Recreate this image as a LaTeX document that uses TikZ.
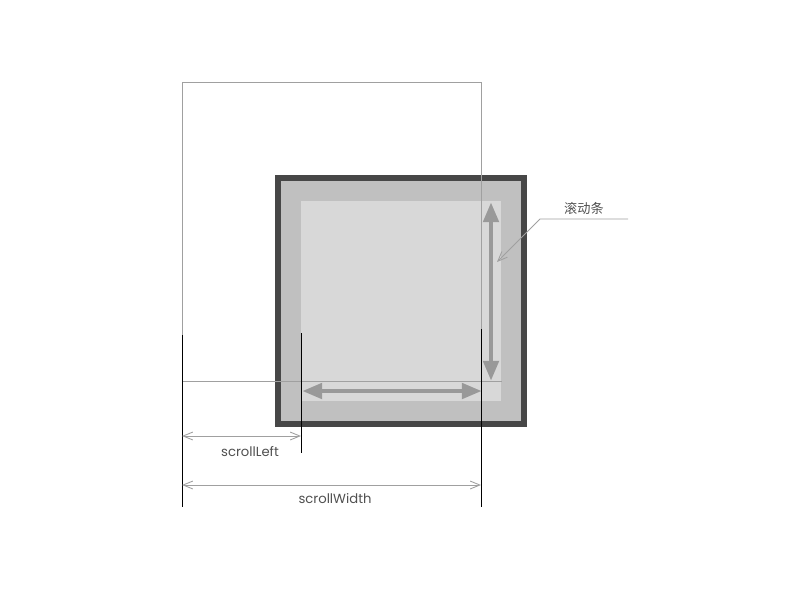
\documentclass[tikz,border=0pt]{standalone}
\usepackage{fontspec}
\setmainfont{Poppins}
\newfontfamily\cjk{Noto Sans CJK SC}
\usetikzlibrary{arrows.meta}
\definecolor{frame}{RGB}{71, 71, 71}
\definecolor{pane}{RGB}{192, 192, 192}
\definecolor{view}{RGB}{216, 216, 216}
\definecolor{bar}{RGB}{153, 153, 153}
\definecolor{thin}{RGB}{160, 160, 160}
\definecolor{label}{RGB}{80, 80, 80}

\begin{document}
\begin{tikzpicture}[
    x=0.02cm, y=-0.02cm,
    edge/.style={draw=thin, line width=0.5pt},
    guide/.style={draw=black, line width=0.45pt},
    dim/.style={{Straight Barb[length=5.5pt,width=4.5pt]}-{Straight Barb[length=5.5pt,width=4.5pt]}, draw=thin, line width=0.5pt},
    scrollbar/.style={{Triangle[width=8.5pt,length=11.5pt]}-{Triangle[width=8.5pt,length=11.5pt]}, draw=bar, line width=2.8pt},
    txt/.style={inner sep=0pt, font=\fontsize{7.5}{9}\selectfont, text=label},
]
\useasboundingbox (0,0) rectangle (800,600);

% element box with border and padding
\fill[frame] (275,175) rectangle (527,427);
\fill[pane]  (281,181) rectangle (521,421);
\fill[view]  (301,201) rectangle (501,401);

% scrolled content outline
\coordinate (tl) at (182,82);
\coordinate (tr) at (481,82);
\coordinate (lb) at (182,335);
\coordinate (rb) at (481,329);
\coordinate (bl) at (182,381);
\coordinate (br) at (502,381);
\draw[edge] (lb) -- (tl) -- (tr) -- (rb);
\draw[edge] (bl) -- (br);

% scrollbars
\coordinate (vtop) at (491,202);
\coordinate (vbot) at (491,381);
\coordinate (hlft) at (302,391);
\coordinate (hrgt) at (482,391);
\draw[scrollbar] (vtop) -- (vbot);
\draw[scrollbar] (hlft) -- (hrgt);

% extension lines
\coordinate (m1a) at (182,335);
\coordinate (m1b) at (182,507);
\coordinate (m2a) at (301,333);
\coordinate (m2b) at (301,453);
\coordinate (m3a) at (481,329);
\coordinate (m3b) at (481,507);
\draw[guide] (m1a) -- (m1b);
\draw[guide] (m2a) -- (m2b);
\draw[guide] (m3a) -- (m3b);

% dimensions
\coordinate (sl1) at (182,436);
\coordinate (sl2) at (301,436);
\coordinate (sw1) at (182,485);
\coordinate (sw2) at (481,485);
\draw[dim] (sl1) -- (sl2);
\draw[dim] (sw1) -- (sw2);
\node[txt] (left)  at (250,452) {scrollLeft};
\node[txt] (width) at (335,499) {scrollWidth};

% callout
\node[txt, font=\cjk\fontsize{7.5}{9}\selectfont] (callout) at (584,208) {滚动条};
\coordinate (lend) at (628,219);
\coordinate (lknee) at (540,219);
\coordinate (ltip) at (497,262);
\draw[edge, -{Straight Barb[length=5.5pt,width=4.5pt]}] (lend) -- (lknee) -- (ltip);
\end{tikzpicture}
\end{document}
